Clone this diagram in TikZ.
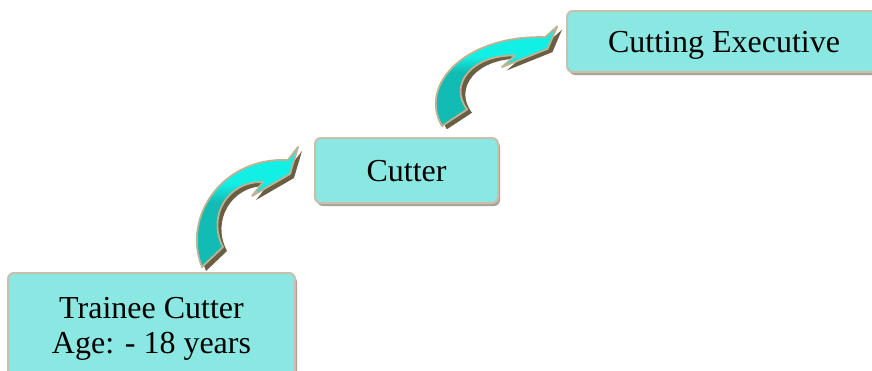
\documentclass[tikz,border=0pt]{standalone}
\usepackage{fontspec}
\setmainfont{Liberation Serif}
\usepackage{tikz}
\usetikzlibrary{calc}
\usetikzlibrary{shadows}

\definecolor{boxfill}{HTML}{8AE7E1}
\definecolor{boxline}{HTML}{C8C0AE}
\definecolor{boxshadow}{HTML}{A9A393}
\definecolor{arrowhi}{HTML}{12F0E6}
\definecolor{arrowlo}{HTML}{12BBB3}
\definecolor{arrowline}{HTML}{BDB293}
\definecolor{arrowshadow}{HTML}{6B5F43}

\pgfdeclareverticalshading{arrowshade}{100bp}{color(0bp)=(arrowlo); color(52bp)=(arrowlo); color(60bp)=(arrowhi); color(100bp)=(arrowhi)}

% outline of the curved block arrow, tail at (0,0)
\newcommand{\arrowoutline}{(0,0) .. controls (-20,50) and (20,110) .. (86,107) -- (96,120) -- (88,93) -- (50,71) -- (61,85) .. controls (25,86) and (5,50) .. (21,20) -- cycle}

\begin{document}
\begin{tikzpicture}[
        x=1pt, y=1pt,
        box/.style = {draw=boxline, line width=2pt, fill=boxfill, rounded corners=6pt,
            inner sep=0pt, text depth=0pt, font=\fontsize{32}{35}\selectfont,
            general shadow={fill=boxshadow, shadow xshift=2pt, shadow yshift=-3pt}},
        arrowbody/.style = {draw=arrowline, line width=1.8pt, line join=round, shading=arrowshade},
        steparrow/.pic = {
            % shadow
            \fill[arrowshadow, shift={(4,-4)}] \arrowoutline;
            % body
            \draw[arrowbody] \arrowoutline;
        },
    ]
    \useasboundingbox (0,0) rectangle (872,-370);
    % boxes
    \node[box, minimum width=287pt, minimum height=104pt, align=center] (trainee) at (151.5,-325) {Trainee Cutter\\Age: - 18 years};
    \node[box, minimum width=183pt, minimum height=65pt] (cutter) at (406.5,-170.5) {Cutter};
    \node[box, minimum width=314pt, minimum height=61pt] (exec) at (724,-41.5) {Cutting Executive};
    % arrows
    \pic at ($(trainee.north)+(50.5,5)$) {steparrow};
    \pic[xscale=1.2, yscale=0.83] at ($(cutter.north)+(35.5,11)$) {steparrow};
\end{tikzpicture}
\end{document}
